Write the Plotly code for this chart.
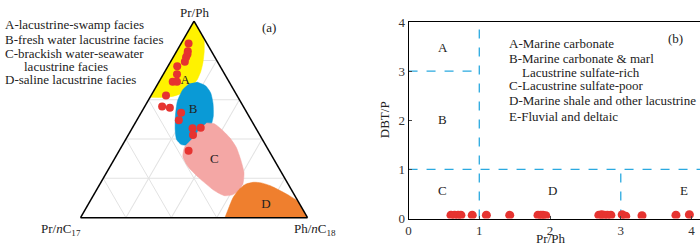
import plotly.graph_objects as go

W, H = 700, 252

# ---------------- Panel (a): ternary data (a = Pr/Ph, b = Pr/nC17, c = Ph/nC18) ----------------
samp_a = [0.886, 0.847, 0.832, 0.816, 0.793, 0.770, 0.730, 0.692, 0.692, 0.621, 0.565, 0.559,
          0.534, 0.496, 0.455, 0.457, 0.421, 0.340]
samp_c = [0.033, 0.049, 0.055, 0.057, 0.063, 0.041, 0.060, 0.060, 0.079, 0.066, 0.077, 0.114,
          0.176, 0.185, 0.266, 0.301, 0.285, 0.306]

# facies fields (a, c); b = 1 - a - c
fieldA_a = [1.000, 0.952, 0.904, 0.848, 0.791, 0.743, 0.700, 0.663, 0.636, 0.618, 0.612, 0.613]
fieldA_c = [0.000, 0.052, 0.092, 0.121, 0.144, 0.158, 0.163, 0.154, 0.133, 0.101, 0.049, 0.000]
fieldB_a = [0.690, 0.671, 0.636, 0.583, 0.518, 0.470, 0.430, 0.390, 0.369, 0.372, 0.398, 0.446,
            0.518, 0.591, 0.652, 0.682]
fieldB_c = [0.168, 0.215, 0.255, 0.292, 0.326, 0.340, 0.335, 0.318, 0.291, 0.258, 0.224, 0.194,
            0.159, 0.131, 0.125, 0.140]
fieldC_a = [0.482, 0.478, 0.451, 0.406, 0.358, 0.294, 0.230, 0.173, 0.138, 0.116, 0.112, 0.138,
            0.205, 0.262, 0.310, 0.358, 0.401, 0.454]
fieldC_c = [0.314, 0.350, 0.394, 0.455, 0.507, 0.559, 0.605, 0.629, 0.628, 0.611, 0.577, 0.520,
            0.417, 0.341, 0.296, 0.279, 0.292, 0.300]
fieldD_a = [0.000, 0.045, 0.101, 0.141, 0.170, 0.180, 0.177, 0.162, 0.138, 0.112, 0.082, 0.000]
fieldD_c = [0.636, 0.629, 0.621, 0.626, 0.642, 0.672, 0.708, 0.756, 0.810, 0.864, 0.918, 1.000]

field_names = ["A", "B", "C", "D"]
field_label_a = [0.698, 0.551, 0.294, 0.064]
field_label_c = [0.112, 0.220, 0.442, 0.785]

legend_a = ["A-lacustrine-swamp facies", "B-fresh water lacustrine facies",
            "C-brackish water-seawater", "lacustrine facies", "D-saline lacustrine facies"]

# ---------------- Panel (b): DBT/P vs Pr/Ph ----------------
prph = [0.60, 0.65, 0.70, 0.74, 0.90, 1.10, 1.43, 1.83, 1.87, 1.90, 1.94, 2.69, 2.73, 2.77,
        2.81, 2.86, 3.02, 3.07, 3.30, 3.78, 3.97]
dbtp = [0.07, 0.07, 0.07, 0.07, 0.07, 0.07, 0.07, 0.07, 0.07, 0.07, 0.06, 0.07, 0.08, 0.07,
        0.07, 0.07, 0.08, 0.05, 0.06, 0.07, 0.08]
x_ticks = [0, 1, 2, 3, 4]
y_ticks = [0, 1, 2, 3, 4]
zone_names = ["A", "B", "C", "D", "E"]
zone_x = [0.48, 0.48, 0.48, 2.04, 3.89]
zone_y = [3.48, 2.02, 0.58, 0.58, 0.58]
# boundaries: (x0, x1, y0, y1)
bound_x0 = [1, 0, 0, 3]
bound_x1 = [1, 1, 4.12, 3]
bound_y0 = [0, 3, 1, 0]
bound_y1 = [4, 3, 1, 1]
legend_b = ["A-Marine carbonate", "B-Marine carbonate & marl", "Lacustrine sulfate-rich",
            "C-Lacustrine sulfate-poor", "D-Marine shale and other lacustrine", "E-Fluvial and deltaic"]

FONT = "Liberation Serif"
RED = "#e63330"
fig = go.Figure()

def b_of(a_list, c_list):
    return [round(1 - a - c, 4) for a, c in zip(a_list, c_list)]

for fa, fc, col in [(fieldA_a, fieldA_c, "#fff200"), (fieldB_a, fieldB_c, "#0a9ad6"),
                    (fieldC_a, fieldC_c, "#f4a7a5"), (fieldD_a, fieldD_c, "#ef7f2e")]:
    fig.add_trace(go.Scatterternary(a=fa, b=b_of(fa, fc), c=fc, mode="lines", fill="toself",
                                    fillcolor=col, line=dict(color=col, width=0.5, shape="spline", smoothing=0.6),
                                    hoverinfo="skip", showlegend=False))

fig.add_trace(go.Scatterternary(a=field_label_a, b=b_of(field_label_a, field_label_c), c=field_label_c,
                                mode="text", text=field_names,
                                textfont=dict(family=FONT, size=13, color="#222"), showlegend=False))
fig.add_trace(go.Scatterternary(a=samp_a, b=b_of(samp_a, samp_c), c=samp_c, mode="markers",
                                marker=dict(color=RED, size=8), showlegend=False))

axis_t = dict(showticklabels=False, ticks="", showgrid=True, gridcolor="#e2e2e2", gridwidth=1,
              dtick=0.2, linecolor="black", linewidth=1.5, title=dict(text=""), min=0)
fig.update_layout(ternary=dict(
    domain=dict(x=[71 / W, 312.7 / W], y=[(H - 224) / H, (H - 15) / H]),
    sum=1, bgcolor="white", aaxis=axis_t, baxis=axis_t, caxis=axis_t))

# Panel (b)
fig.add_trace(go.Scatter(x=prph, y=dbtp, mode="markers", marker=dict(color=RED, size=9),
                         showlegend=False, xaxis="x", yaxis="y"))

fig.update_layout(
    xaxis=dict(domain=[407.3 / W, 1.0], range=[0, 4.12], tickvals=x_ticks, ticks="inside", ticklen=3,
               showline=True, linecolor="black", linewidth=1, mirror=True, showgrid=False, zeroline=False,
               tickfont=dict(family=FONT, size=13, color="#333")),
    yaxis=dict(domain=[(H - 225) / H, (H - 16) / H], range=[0, 4], tickvals=y_ticks, ticks="inside", ticklen=3,
               showline=True, linecolor="black", linewidth=1, showgrid=False, zeroline=False,
               tickfont=dict(family=FONT, size=13, color="#333")),
)

shapes = []
for x0, x1, y0, y1 in zip(bound_x0, bound_x1, bound_y0, bound_y1):
    shapes.append(dict(type="line", xref="x", yref="y", x0=x0, x1=x1, y0=y0, y1=y1,
                       line=dict(color="#2aa9e0", width=1.3, dash="dash"), layer="below"))
fig.update_layout(shapes=shapes)

ann = []
for n, zx, zy in zip(zone_names, zone_x, zone_y):
    ann.append(dict(xref="x", yref="y", x=zx, y=zy, text=n, showarrow=False,
                    font=dict(family=FONT, size=13, color="#222")))

def pa(text, x, y, xanchor="left", size=13, textangle=0):
    ann.append(dict(xref="paper", yref="paper", x=x / W, y=1 - y / H, text=text, showarrow=False,
                    xanchor=xanchor, yanchor="middle", textangle=textangle,
                    font=dict(family=FONT, size=size, color="#222")))

# panel (a) texts
leg_a_x = [0, 0, 0, 19, 0]
leg_a_y = [19, 34.3, 49.5, 63.5, 77.5]
for t, lx, ly in zip(legend_a, leg_a_x, leg_a_y):
    pa(t, lx, ly)
pa("(a)", 266.7, 21.7, "center")
pa("Pr/Ph", 192, 6, "center")
pa("Pr/<i>n</i>C<sub>17</sub>", 58, 237, "center")
pa("Ph/<i>n</i>C<sub>18</sub>", 313, 237, "center")

# panel (b) texts
leg_b_x = [506.5, 506.5, 519, 506.5, 506.5, 506.5]
leg_b_y = [39.3, 54.8, 69.2, 83.8, 99.3, 116.3]
for t, lx, ly in zip(legend_b, leg_b_x, leg_b_y):
    pa(t, lx, ly)
pa("(b)", 675, 33.3, "center")
pa("DBT/P", 383, 120, "center", textangle=-90)
pa("Pr/Ph", 550, 246.5, "center")

fig.update_layout(annotations=ann, width=W, height=H, margin=dict(l=0, r=0, t=0, b=0),
                  paper_bgcolor="white", plot_bgcolor="white", showlegend=False)

fig.write_html("out.html", config={"displayModeBar": False},
               post_script="document.body.style.margin='0';document.body.style.overflow='hidden';")
